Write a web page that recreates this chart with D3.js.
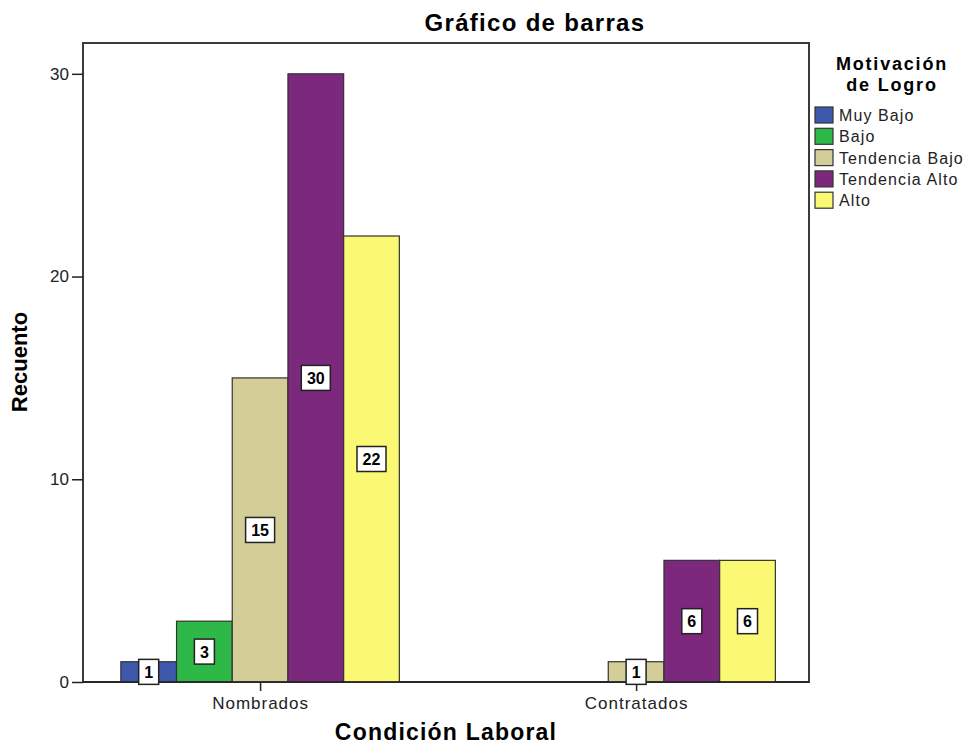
<!DOCTYPE html>
<html>
<head>
<meta charset="utf-8">
<script src="https://cdn.jsdelivr.net/npm/d3@7"></script>
<style>
  body { margin: 0; background: #fff; }
  text { font-family: "Liberation Sans", Arial, sans-serif; }
</style>
</head>
<body>
<script>
// data
var categories = ['Nombrados', 'Contratados'];
var series = ['Muy Bajo', 'Bajo', 'Tendencia Bajo', 'Tendencia Alto', 'Alto'];
var seriesColors = ['#3e58ac', '#2eb848', '#d3ce97', '#7c287d', '#fbf873'];
var nombrados = [1, 3, 15, 30, 22];
var contratados = [0, 0, 1, 6, 6];
var yTicks = [0, 10, 20, 30];

var W = 971, H = 753;
var plotLeft = 83, plotRight = 809, plotTop = 43, plotBottom = 682;

var svg = d3.select('body').append('svg')
	.attr('width', W)
	.attr('height', H);

var counts = {'Nombrados': nombrados, 'Contratados': contratados};
var rows = [];
categories.forEach(function(c){
	series.forEach(function(s, i){
		rows.push({cat: c, serie: s, value: counts[c][i]});
	});
});

// scales
var xScale = d3.scalePoint()
	.domain(categories)
	.range([plotLeft, plotRight])
	.padding(0.4654)
	.align(0.506);
var groupWidth = xScale.step() * 0.7407;
var inner = d3.scaleBand()
	.domain(series)
	.range([-groupWidth / 2, groupWidth / 2]);
var yScale = d3.scaleLinear()
	.domain([0, 31.52])
	.range([plotBottom, plotTop]);
var color = d3.scaleOrdinal().domain(series).range(seriesColors);

// frame
svg.append('rect')
	.attr('x', plotLeft).attr('y', plotTop)
	.attr('width', plotRight - plotLeft).attr('height', plotBottom - plotTop)
	.attr('fill', 'none').attr('stroke', '#3a3a3a').attr('stroke-width', 2);

// bars
var bars = rows.filter(function(d){ return d.value > 0; });
svg.append('g').attr('id', 'bars')
	.selectAll('rect')
	.data(bars)
	.enter()
	.append('rect')
	.attr('x', function(d){ return xScale(d.cat) + inner(d.serie); })
	.attr('y', function(d){ return yScale(d.value); })
	.attr('width', inner.bandwidth())
	.attr('height', function(d){ return yScale(0) - yScale(d.value); })
	.attr('fill', function(d){ return color(d.serie); })
	.attr('stroke', '#333')
	.attr('stroke-width', 1.2);

// y axis
var yAxis = d3.axisLeft(yScale).tickValues(yTicks).tickSize(11).tickPadding(3);
var gy = svg.append('g').attr('transform', 'translate(' + plotLeft + ',0)').call(yAxis);
gy.select('.domain').remove();
gy.selectAll('line').attr('stroke', '#222').attr('stroke-width', 1.5);
gy.selectAll('text').attr('font-size', '17px').attr('fill', '#222')
	.attr('font-family', '"Liberation Sans", Arial, sans-serif');

// x axis
var xAxis = d3.axisBottom(xScale).tickSize(9).tickPadding(6);
var gx = svg.append('g').attr('transform', 'translate(0,' + plotBottom + ')').call(xAxis);
gx.select('.domain').attr('stroke', '#222').attr('stroke-width', 1.5)
	.attr('d', 'M' + plotLeft + ',0H' + plotRight);
gx.selectAll('line').attr('stroke', '#222').attr('stroke-width', 1.5);
gx.selectAll('text').attr('font-size', '17px').attr('fill', '#222')
	.attr('letter-spacing', '1px')
	.attr('font-family', '"Liberation Sans", Arial, sans-serif');

// value labels
var labels = svg.append('g').attr('id', 'labels')
	.selectAll('g')
	.data(bars)
	.enter()
	.append('g')
	.attr('transform', function(d){
		var cx = xScale(d.cat) + inner(d.serie) + inner.bandwidth() / 2;
		var cy = (yScale(0) + yScale(d.value)) / 2;
		return 'translate(' + cx + ',' + cy + ')';
	});
labels.append('rect')
	.attr('x', function(d){ return -(String(d.value).length * 9 + 11) / 2; })
	.attr('y', -12.5)
	.attr('width', function(d){ return String(d.value).length * 9 + 11; })
	.attr('height', 25)
	.attr('fill', '#fff')
	.attr('stroke', '#222')
	.attr('stroke-width', 1.5);
labels.append('text')
	.attr('text-anchor', 'middle')
	.attr('y', 6)
	.attr('font-size', '16px')
	.attr('font-weight', 'bold')
	.text(function(d){ return d.value; });

// titles
svg.append('text')
	.attr('x', 535).attr('y', 31)
	.attr('text-anchor', 'middle')
	.attr('font-size', '24px').attr('font-weight', 'bold')
	.attr('letter-spacing', '1.3px')
	.text('Gráfico de barras');

svg.append('text')
	.attr('x', (plotLeft + plotRight) / 2).attr('y', 740)
	.attr('text-anchor', 'middle')
	.attr('font-size', '23px').attr('font-weight', 'bold')
	.attr('letter-spacing', '1.2px')
	.text('Condición Laboral');

svg.append('text')
	.attr('transform', 'translate(27,362) rotate(-90)')
	.attr('text-anchor', 'middle')
	.attr('font-size', '22px').attr('font-weight', 'bold')
	.text('Recuento');

// legend
var legend = svg.append('g').attr('id', 'legend');
legend.append('text')
	.attr('x', 892).attr('y', 70)
	.attr('text-anchor', 'middle')
	.attr('font-size', '18px').attr('font-weight', 'bold')
	.attr('letter-spacing', '1.8px')
	.text('Motivación');
legend.append('text')
	.attr('x', 892).attr('y', 91)
	.attr('text-anchor', 'middle')
	.attr('font-size', '18px').attr('font-weight', 'bold')
	.attr('letter-spacing', '1.8px')
	.text('de Logro');

var items = legend.selectAll('.item')
	.data(series)
	.enter()
	.append('g')
	.attr('class', 'item')
	.attr('transform', function(d, i){ return 'translate(815,' + (115 + i * 21.3) + ')'; });
items.append('rect')
	.attr('x', 0).attr('y', -8)
	.attr('width', 18).attr('height', 16)
	.attr('fill', function(d){ return color(d); })
	.attr('stroke', '#333').attr('stroke-width', 1.2);
items.append('text')
	.attr('x', 24).attr('y', 6)
	.attr('font-size', '16px')
	.attr('letter-spacing', '1.1px')
	.attr('fill', '#222')
	.text(function(d){ return d; });
</script>
</body>
</html>
